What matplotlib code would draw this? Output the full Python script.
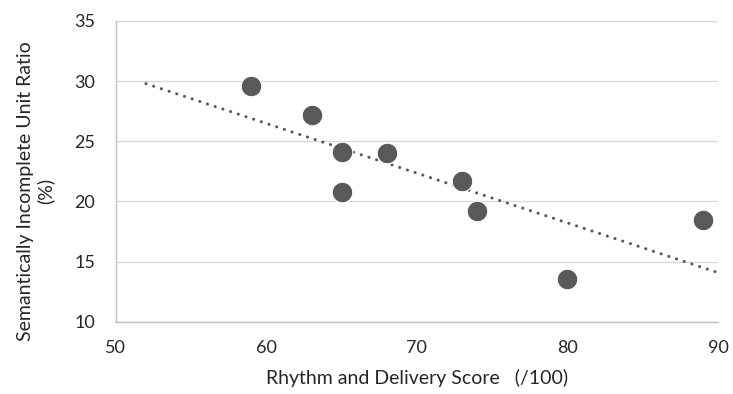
import numpy as np
import matplotlib
matplotlib.use("Agg")
import matplotlib.pyplot as plt

plt.rcParams["font.family"] = ["Lato", "DejaVu Sans"]

# rhythm/delivery score vs semantically incomplete unit ratio
scores = [59, 63, 65, 65, 68, 73, 74, 80, 89]
ratios = [29.6, 27.2, 24.1, 20.8, 24.0, 21.7, 19.2, 13.6, 18.5]
trend_range = [52, 90]
x_ticks = [50, 60, 70, 80, 90]
y_ticks = [10, 15, 20, 25, 30, 35]

text_col = "#262626"

fig = plt.figure(figsize=(7.33, 3.94), dpi=100)
ax = fig.add_axes([0.158, 0.183, 0.8215, 0.764])

# linear trendline, extended backward like excel's forecast
slope, icpt = np.polyfit(scores, ratios, 1)
tx = np.array(trend_range, dtype=float)
ax.plot(tx, slope * tx + icpt, color="#595959", lw=2.2,
        linestyle=(0, (0.05, 2.6)), dash_capstyle="round", zorder=2)

ax.scatter(scores, ratios, s=220, color="#595959", edgecolors="white",
           linewidths=0.8, zorder=3)

ax.set_xlim(50, 90)
ax.set_ylim(10, 35)
ax.set_xticks(x_ticks)
ax.set_yticks(y_ticks)
ax.grid(axis="y", color="#d9d9d9", lw=1)
ax.set_axisbelow(True)
for side in ["top", "right"]:
    ax.spines[side].set_visible(False)
for side in ["left", "bottom"]:
    ax.spines[side].set_color("#bfbfbf")
    ax.spines[side].set_linewidth(1)
ax.tick_params(length=0, labelsize=13, colors=text_col)
ax.tick_params(axis="x", pad=13)
ax.tick_params(axis="y", pad=15)

ax.set_xlabel("Rhythm and Delivery Score   (/100)", fontsize=14,
              color=text_col, labelpad=9)
# excel centres this a bit below the plot middle
ax.set_ylabel("Semantically Incomplete Unit Ratio\n(%)", fontsize=14,
              color=text_col, labelpad=14, linespacing=1.2, y=0.435)

fig.savefig("out.png", dpi=100)
